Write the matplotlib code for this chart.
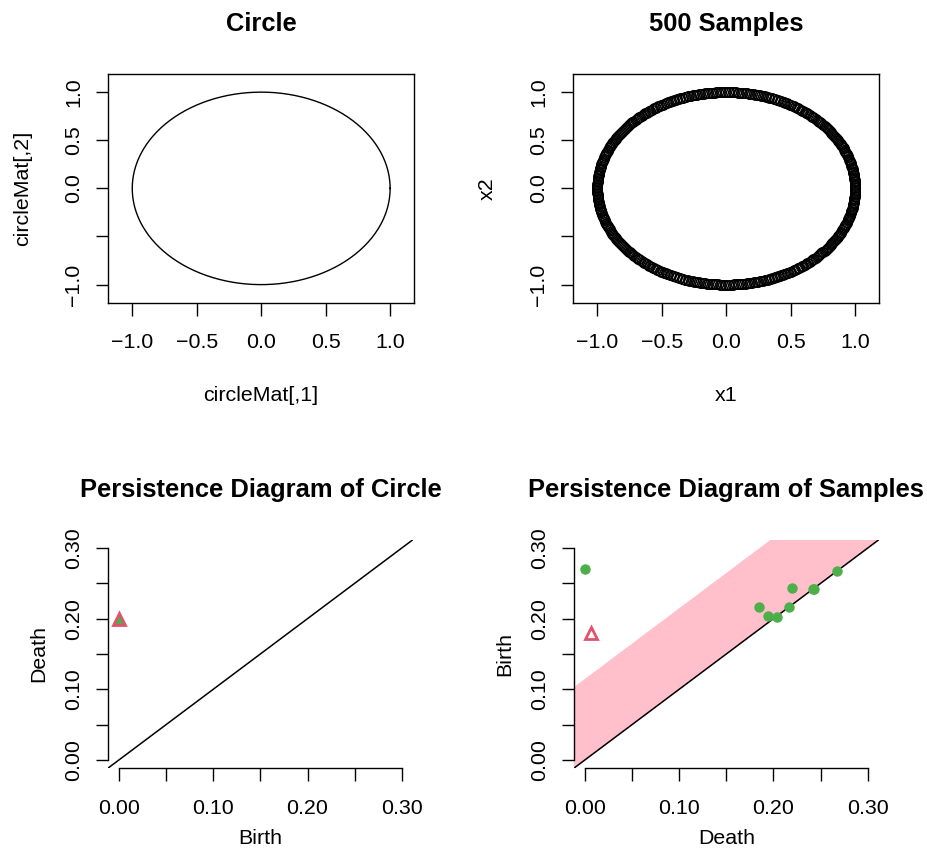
import matplotlib
matplotlib.use('Agg')
import matplotlib.pyplot as plt
import numpy as np

plt.rcParams['font.family'] = ['Liberation Sans', 'DejaVu Sans']

### Data
# unit circle drawn in the first panel, and the 500 sampled angles (degrees)
circle_angles = np.linspace(0, 360, 361)
sample_angles = np.linspace(0, 360, 500, endpoint=False)
circle_ticks = [-1.0, -0.5, 0.0, 0.5, 1.0]
circle_xticklabels = ['\u22121.0', '\u22120.5', '0.0', '0.5', '1.0']
circle_yticklabels = ['\u22121.0', '', '0.0', '0.5', '1.0']

# persistence diagram of the circle (dimension 1 point)
circ_birth = [0.0]
circ_death = [0.20]

# persistence diagram of the samples
samp0_x = [0.0, 0.185, 0.194, 0.204, 0.216, 0.2195, 0.242, 0.2435, 0.267]
samp0_y = [0.270, 0.216, 0.204, 0.203, 0.216, 0.243, 0.2415, 0.2425, 0.267]
samp1_x = [0.0065]
samp1_y = [0.179]
band = 0.116

diag_ticks = [0.0, 0.05, 0.10, 0.15, 0.20, 0.25, 0.30]
diag_labels = ['0.00', '', '0.10', '', '0.20', '', '0.30']

RED = '#DF536B'
GREEN = '#4DAF4A'
FS = 15.4
TFS = 18.4

fig = plt.figure(figsize=(9.28, 8.52), dpi=100)

ax1 = fig.add_axes([0.1164, 0.6447, 0.3301, 0.2684])
ax2 = fig.add_axes([0.6175, 0.6447, 0.3301, 0.2684])
ax3 = fig.add_axes([0.1161, 0.0982, 0.3290, 0.2685])
ax4 = fig.add_axes([0.6182, 0.0982, 0.3290, 0.2685])


def style_top(ax):
    ax.set_xlim(-1.188, 1.188); ax.set_ylim(-1.188, 1.188)
    ax.set_xticks(circle_ticks); ax.set_xticklabels(circle_xticklabels)
    ax.set_yticks(circle_ticks)
    ax.set_yticklabels(circle_yticklabels, rotation=90, va='center')
    ax.tick_params(axis='x', length=9, width=1, pad=13, labelsize=FS)
    ax.tick_params(axis='y', length=9, width=1, pad=9, labelsize=FS)
    for s in ax.spines.values():
        s.set_linewidth(1.0)


def style_bottom(ax):
    ax.set_xlim(-0.012, 0.312); ax.set_ylim(-0.012, 0.312)
    ax.set_xticks(diag_ticks); ax.set_xticklabels(diag_labels)
    ax.set_yticks(diag_ticks)
    ax.set_yticklabels(diag_labels, rotation=90, va='center')
    ax.tick_params(axis='x', length=9, width=1, pad=13, labelsize=FS)
    ax.tick_params(axis='y', length=9, width=1, pad=9, labelsize=FS)
    ax.spines['top'].set_visible(False); ax.spines['right'].set_visible(False)
    ax.spines['bottom'].set_bounds(0, 0.3); ax.spines['left'].set_bounds(0, 0.3)
    ax.spines['bottom'].set_linewidth(1.0); ax.spines['left'].set_linewidth(1.0)
    ax.axline((0, 0), slope=1, color='black', lw=1.1)


### Circle
t = np.radians(circle_angles)
ax1.plot(np.cos(t), np.sin(t), color='black', lw=1.0)
style_top(ax1)
ax1.set_title('Circle', fontsize=TFS, fontweight='bold', pad=31)
ax1.set_xlabel('circleMat[,1]', fontsize=FS, va='center')
ax1.xaxis.set_label_coords(0.5, -0.406)
ax1.set_ylabel('circleMat[,2]', fontsize=FS, va='center')
ax1.yaxis.set_label_coords(-0.279, 0.5)

### 500 Samples
s = np.radians(sample_angles)
ax2.plot(np.cos(s), np.sin(s), linestyle='none', marker='o', ms=7,
         mfc='none', mec='black', mew=0.8)
style_top(ax2)
ax2.set_title('500 Samples', fontsize=TFS, fontweight='bold', pad=31)
ax2.set_xlabel('x1', fontsize=FS, va='center')
ax2.xaxis.set_label_coords(0.5, -0.406)
ax2.set_ylabel('x2', fontsize=FS, va='center')
ax2.yaxis.set_label_coords(-0.281, 0.5)

### Persistence diagram of circle
style_bottom(ax3)
ax3.plot(circ_birth, circ_death, linestyle='none', marker='^', ms=9,
         mfc=GREEN, mec=RED, mew=2, clip_on=False)
ax3.set_title('Persistence Diagram of Circle', fontsize=TFS, fontweight='bold', pad=31)
ax3.set_xlabel('Birth', fontsize=FS, va='center')
ax3.xaxis.set_label_coords(0.5, -0.305)
ax3.set_ylabel('Death', fontsize=FS, va='center')
ax3.yaxis.set_label_coords(-0.226, 0.5)

### Persistence diagram of samples
xx = np.array([-0.05, 0.4])
ax4.fill_between(xx, xx, xx + band, color='pink', lw=0, zorder=0)
style_bottom(ax4)
ax4.plot(samp0_x, samp0_y, linestyle='none', marker='o', ms=6.5,
         color=GREEN, clip_on=False)
ax4.plot(samp1_x, samp1_y, linestyle='none', marker='^', ms=9,
         mfc='white', mec=RED, mew=2, clip_on=False)
ax4.set_title('Persistence Diagram of Samples', fontsize=TFS, fontweight='bold', pad=31)
ax4.set_xlabel('Death', fontsize=FS, va='center')
ax4.xaxis.set_label_coords(0.5, -0.305)
ax4.set_ylabel('Birth', fontsize=FS, va='center')
ax4.yaxis.set_label_coords(-0.226, 0.5)

fig.savefig('out.png', dpi=100)
